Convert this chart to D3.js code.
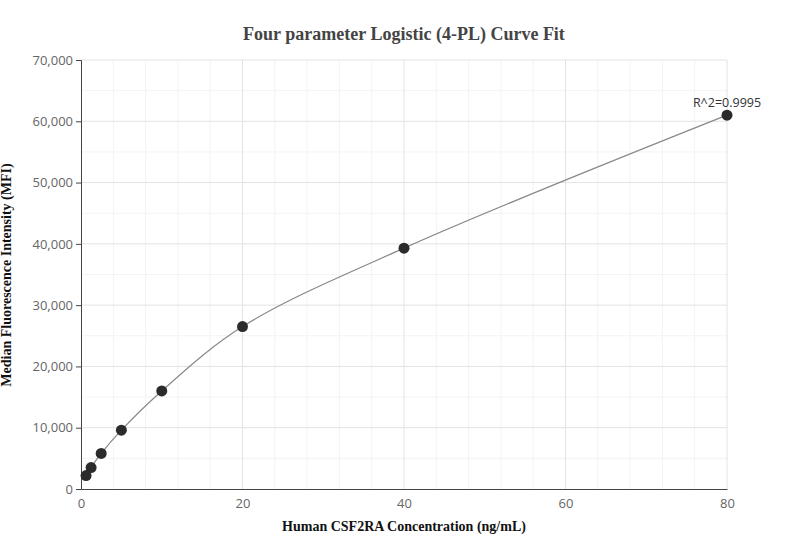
<!DOCTYPE html><html><head><meta charset="utf-8"><script src="https://cdn.jsdelivr.net/npm/d3@7"></script>
<style>body{margin:0;background:#fff}</style></head><body><svg id="c" width="808" height="560"></svg>
<script>
const concentrations=[0.625,1.25,2.5,5,10,20,40,80];
const mfi=[2200,3500,5800,9600,16000,26500,39300,61000];
const xTicks=[0,20,40,60,80];
const yTicks=[0,10000,20000,30000,40000,50000,60000,70000];
const svg=d3.select("#c");
const m={l:81,r:727,t:60,b:489};
const x=d3.scaleLinear().domain([0,80]).range([m.l,m.r]);
const y=d3.scaleLinear().domain([0,70000]).range([m.b,m.t]);
const g=svg.append("g");
d3.range(4,80,4).filter(v=>v%20).forEach(v=>g.append("line").attr("x1",x(v)).attr("x2",x(v)).attr("y1",m.t).attr("y2",m.b).attr("stroke","#f3f3f3"));
d3.range(5000,70000,10000).forEach(v=>g.append("line").attr("x1",m.l).attr("x2",m.r).attr("y1",y(v)).attr("y2",y(v)).attr("stroke","#f3f3f3"));
xTicks.slice(1).forEach(v=>g.append("line").attr("x1",x(v)).attr("x2",x(v)).attr("y1",m.t).attr("y2",m.b).attr("stroke","#e3e3e3"));
yTicks.slice(1).forEach(v=>g.append("line").attr("x1",m.l).attr("x2",m.r).attr("y1",y(v)).attr("y2",y(v)).attr("stroke","#e3e3e3"));
const ya=svg.append("g").attr("transform",`translate(${m.l},0)`).call(d3.axisLeft(y).tickValues(yTicks).tickFormat(d3.format(",")).tickSize(5));
const xa=svg.append("g").attr("transform",`translate(0,${m.b})`).call(d3.axisBottom(x).tickValues(xTicks).tickSize(0).tickPadding(10));
[ya,xa].forEach(a=>{a.selectAll("path,line").attr("stroke","#444");a.selectAll("text").attr("fill","#666").attr("font-family","Open Sans").attr("font-size",13);});
svg.append("path").datum(concentrations.map((c,i)=>[c,mfi[i]])).attr("fill","none").attr("stroke","#888").attr("stroke-width",1.2)
 .attr("d",d3.line().x(d=>x(d[0])).y(d=>y(d[1])).curve(d3.curveCatmullRom.alpha(0.5)));
svg.selectAll("circle").data(concentrations).enter().append("circle").attr("cx",d=>x(d)).attr("cy",(d,i)=>y(mfi[i])).attr("r",5.5).attr("fill","#2b2b2b");
svg.append("text").attr("x",x(80)).attr("y",y(61000)-8).attr("text-anchor","middle").attr("font-family","Open Sans").attr("font-size",12.5).attr("fill","#333").text("R^2=0.9995");
svg.append("text").attr("x",404).attr("y",40).attr("text-anchor","middle").attr("font-family","Liberation Serif").attr("font-weight","bold").attr("font-size",18).attr("fill","#444").text("Four parameter Logistic (4-PL) Curve Fit");
svg.append("text").attr("x",404).attr("y",531).attr("text-anchor","middle").attr("font-family","Liberation Serif").attr("font-weight","bold").attr("font-size",14).attr("fill","#111").text("Human CSF2RA Concentration (ng/mL)");
svg.append("text").attr("transform","translate(11,275) rotate(-90)").attr("text-anchor","middle").attr("font-family","Liberation Serif").attr("font-weight","bold").attr("font-size",14).attr("fill","#111").text("Median Fluorescence Intensity (MFI)");
</script></body></html>
